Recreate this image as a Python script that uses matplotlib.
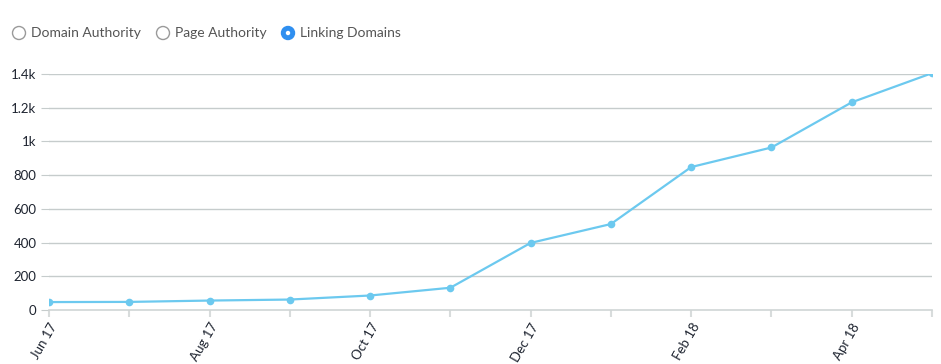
import matplotlib.pyplot as plt
from matplotlib.patches import Circle

plt.rcParams['font.family'] = ['Lato', 'DejaVu Sans']

months = ['Jun 17', 'Jul 17', 'Aug 17', 'Sep 17', 'Oct 17', 'Nov 17',
          'Dec 17', 'Jan 18', 'Feb 18', 'Mar 18', 'Apr 18', 'May 18']
linking_domains = [47, 48, 56, 62, 86, 132, 398, 510, 848, 964, 1232, 1405]
yticks = [0, 200, 400, 600, 800, 1000, 1200, 1400]
ylabels = ['0', '200', '400', '600', '800', '1k', '1.2k', '1.4k']
options = ['Domain Authority', 'Page Authority', 'Linking Domains']
selected = 2

W, H = 941, 364
fig = plt.figure(figsize=(W / 100, H / 100), dpi=100)
ax = fig.add_axes([49 / W, 1 - 310 / H, (932 - 49) / W, (310 - 74) / H])

line_c = '#6cc9ef'
grid_c = '#c6cccc'
x = list(range(len(months)))
ax.plot(x, linking_domains, color=line_c, lw=1.6, marker='o', ms=5.5,
        markeredgewidth=0, zorder=3)

ax.set_xlim(0, len(months) - 1)
ax.set_ylim(0, 1400)
ax.set_yticks(yticks)
ax.set_yticklabels(ylabels)
ax.set_xticks(x[::2])
ax.set_xticklabels(months[::2], rotation=60, ha='right', rotation_mode='anchor')
ax.set_xticks(x[1::2], minor=True)

for v in yticks[1:]:
    ax.axhline(v, color=grid_c, lw=1, zorder=1)
for s in ['top', 'right', 'left']:
    ax.spines[s].set_visible(False)
ax.spines['bottom'].set_color('#d0d5d5')
ax.spines['bottom'].set_linewidth(1.2)
ax.tick_params(axis='y', length=6, color=grid_c, labelsize=9.5,
               labelcolor='#1e2430', pad=3)
ax.tick_params(axis='x', which='both', length=5, width=1.5, color='#d8dcdc',
               labelsize=9.5, labelcolor='#1e2430', pad=3)

# radio buttons
cx = [19, 163, 288]
for i, (label, px) in enumerate(zip(options, cx)):
    cy = H - 33
    if i == selected:
        fig.patches.append(Circle((px, cy), 6.5, transform=None,
                                  facecolor='#2f8ff0', edgecolor='#2f8ff0', lw=1))
        fig.patches.append(Circle((px, cy), 2.2, transform=None,
                                  facecolor='white', edgecolor='none'))
    else:
        fig.patches.append(Circle((px, cy), 6.5, transform=None,
                                  facecolor='white', edgecolor='#9a9a9a', lw=1))
    fig.text((px + 12) / W, cy / H, label, fontsize=10, color='#555555',
             va='center', ha='left')

fig.savefig('out.png', dpi=100)
